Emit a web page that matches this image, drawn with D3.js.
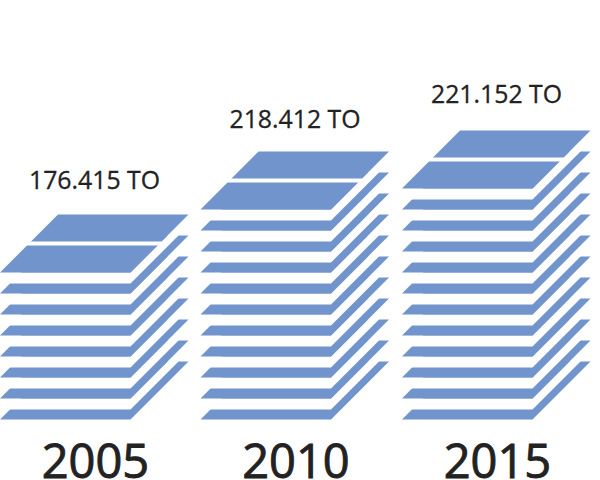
<!DOCTYPE html>
<html><head><meta charset="utf-8">
<style>html,body{margin:0;padding:0;background:#fff}svg{display:block}text{font-family:"Open Sans",sans-serif}</style>
<script src="https://cdn.jsdelivr.net/npm/d3@7"></script></head>
<body><svg id="c" width="600" height="480"></svg>
<script>
const years = ["2005","2010","2015"];
const valueLabels = ["176.415 TO","218.412 TO","221.152 TO"];
const layerCounts = [8,11,12];
const color = "#7094cb";
const textColor = "#222222";

const svg = d3.select("#c");
const x = d3.scaleOrdinal().domain(years).range([0,200.5,402]);
const y = d3.scaleLinear().domain([0,12]).range([419.5,167.5]);
const labelGap = d3.scaleOrdinal().domain(years).range([84,82,86]);
const plateW = 130.5, depth = 58, thick = 11;
const line = d3.line();
const plate = (x0,yf)=>line([[x0,yf],[x0+plateW,yf],[x0+plateW+depth,yf-depth],[x0+depth,yf-depth]])+"Z";

years.forEach((yr,k)=>{
  const g = svg.append("g");
  const x0 = x(yr), n = layerCounts[k];
  d3.range(n).forEach(i=>{
    const yf = y(i);
    // white under-rim hides the plate below
    g.append("path").attr("d",line([[x0,yf],[x0+plateW,yf],[x0+plateW+depth,yf-depth],[x0+plateW+depth,yf-depth+thick],[x0+plateW,yf+thick],[x0,yf+thick]])+"Z").attr("fill","#fff");
    g.append("path").attr("d",plate(x0,yf)).attr("fill",color);
  });
  // white slit across the top plate
  const top = y(n-1), s0 = 27, s1 = 31;
  g.append("path").attr("d",line([[x0+s0-1,top-s0],[x0+plateW+s0+1,top-s0],[x0+plateW+s1+1,top-s1],[x0+s1-1,top-s1]])+"Z").attr("fill","#fff");
  svg.append("text").attr("x",x0+94.5).attr("y",top-labelGap(yr)).attr("text-anchor","middle")
    .attr("font-size",24.8).attr("fill",textColor).attr("stroke",textColor).attr("stroke-width",0.3).text(valueLabels[k]);
  svg.append("text").attr("x",x0+95.5).attr("y",478).attr("text-anchor","middle")
    .attr("font-size",47).attr("fill",textColor).attr("stroke",textColor).attr("stroke-width",0.9).text(yr);
});
</script></body></html>
